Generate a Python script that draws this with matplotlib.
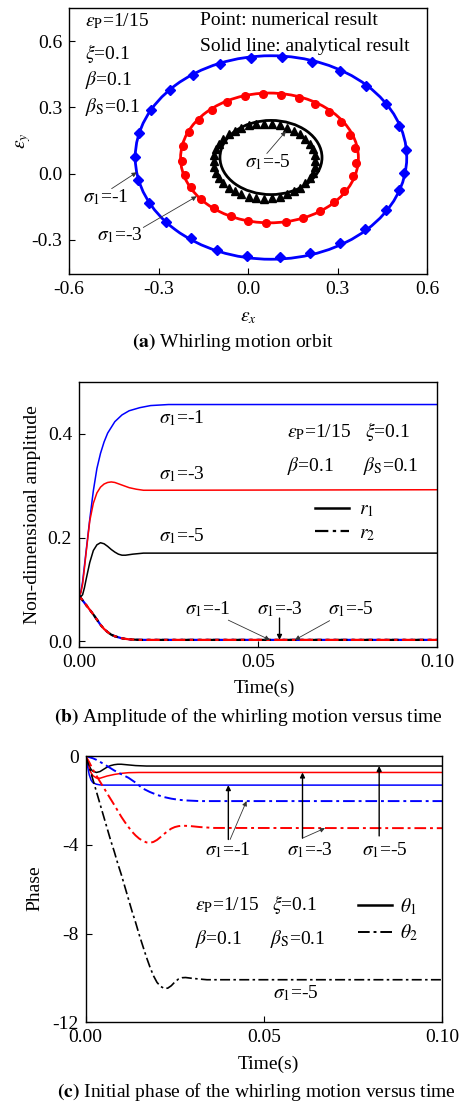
import matplotlib
matplotlib.use("Agg")
import matplotlib.pyplot as plt
import numpy as np
from matplotlib.patches import Ellipse
from matplotlib.lines import Line2D

plt.rcParams['font.family'] = ['Liberation Serif', 'DejaVu Serif']
plt.rcParams['mathtext.fontset'] = 'stix'
plt.rcParams['axes.unicode_minus'] = False

# (a) whirling orbits: sigma1 = -1, -3, -5
orbit_colors = ['blue', 'red', 'black']
orbit_markers = ['D', 'o', '^']
line_cx = [0.077, 0.072, 0.077]
line_cy = [0.073, 0.071, 0.073]
line_rx = [0.455, 0.298, 0.171]
line_ry = [0.461, 0.294, 0.168]
point_cx = [0.075, 0.070, 0.055]
point_cy = [0.075, 0.069, 0.057]
point_r = [0.455, 0.292, 0.170]
angles_s1 = [4, 18, 32, 45, 59, 72, 85, 98, 112, 125, 138, 152, 166, 180, 193,
             207, 220, 234, 247, 260, 274, 287, 301, 314, 328, 341, 351]
angles_s3 = [-4, 9, 21, 34, 46, 58, 70, 82, 94, 106, 119, 131, 143, 156, 169,
             182, 195, 206, 219, 231, 244, 256, 268, 281, 293, 306, 318, 330, 344]
angles_s5 = [0, 9, 18, 27, 36, 45, 54, 63, 72, 81, 90, 99, 108, 117, 126, 135,
             144, 153, 162, 171, 180, 189, 198, 207, 216, 225, 234, 243, 252,
             261, 270, 279, 288, 297, 306, 315, 324, 333, 342, 351]
point_angles = [angles_s1, angles_s3, angles_s5]

# (b) amplitude vs time
t_r1_s1 = [0, 0.0005, 0.001, 0.0015, 0.002, 0.003, 0.004, 0.005, 0.006, 0.007,
           0.008, 0.010, 0.012, 0.014, 0.017, 0.020, 0.025, 0.1]
r1_s1 = [0.088, 0.095, 0.115, 0.145, 0.175, 0.235, 0.29, 0.333, 0.362, 0.384,
         0.401, 0.423, 0.436, 0.444, 0.450, 0.454, 0.456, 0.456]
t_r1_s3 = [0, 0.0005, 0.001, 0.0015, 0.002, 0.003, 0.004, 0.005, 0.006, 0.007,
           0.008, 0.009, 0.010, 0.012, 0.014, 0.016, 0.018, 0.022, 0.1]
r1_s3 = [0.088, 0.093, 0.110, 0.140, 0.172, 0.232, 0.266, 0.286, 0.297, 0.303,
         0.306, 0.307, 0.306, 0.301, 0.296, 0.293, 0.291, 0.291, 0.292]
t_r1_s5 = [0, 0.0005, 0.001, 0.0015, 0.002, 0.003, 0.004, 0.005, 0.006, 0.007,
           0.008, 0.009, 0.010, 0.011, 0.012, 0.013, 0.015, 0.018, 0.1]
r1_s5 = [0.090, 0.086, 0.090, 0.103, 0.120, 0.152, 0.175, 0.186, 0.190, 0.188,
         0.183, 0.177, 0.172, 0.168, 0.166, 0.166, 0.168, 0.170, 0.170]
t_r2 = [0, 0.001, 0.002, 0.003, 0.004, 0.005, 0.006, 0.007, 0.008, 0.009,
        0.010, 0.012, 0.014, 0.017, 0.1]
r2_vals = [0.088, 0.079, 0.070, 0.061, 0.052, 0.042, 0.032, 0.024, 0.018,
           0.013, 0.010, 0.006, 0.004, 0.003, 0.003]

# (c) phase vs time
t_th1_s5 = [0, 0.0005, 0.001, 0.0015, 0.002, 0.003, 0.004, 0.005, 0.006, 0.007,
            0.008, 0.009, 0.010, 0.012, 0.014, 0.017, 0.1]
th1_s5 = [0, -0.25, -0.45, -0.6, -0.68, -0.74, -0.70, -0.60, -0.50, -0.43,
          -0.39, -0.37, -0.37, -0.40, -0.43, -0.45, -0.45]
t_th1_s3 = [0, 0.0005, 0.001, 0.0015, 0.002, 0.003, 0.004, 0.005, 0.006, 0.008,
            0.010, 0.012, 0.015, 0.1]
th1_s3 = [0, -0.3, -0.55, -0.75, -0.88, -0.99, -1.0, -0.95, -0.90, -0.83,
          -0.78, -0.75, -0.74, -0.74]
t_th1_s1 = [0, 0.0005, 0.001, 0.0015, 0.002, 0.003, 0.004, 0.005, 0.006, 0.1]
th1_s1 = [0, -0.45, -0.85, -1.08, -1.2, -1.27, -1.30, -1.31, -1.31, -1.31]

t_th2_s1 = [0, 0.001, 0.002, 0.003, 0.004, 0.006, 0.008, 0.010, 0.012, 0.014,
            0.016, 0.018, 0.020, 0.022, 0.024, 0.026, 0.028, 0.032, 0.1]
th2_s1 = [0, -0.05, -0.10, -0.17, -0.26, -0.45, -0.65, -0.82, -0.98, -1.20,
          -1.46, -1.62, -1.75, -1.85, -1.92, -1.97, -2.00, -2.03, -2.03]
t_th2_s3 = [0, 0.001, 0.002, 0.003, 0.004, 0.005, 0.006, 0.007, 0.008, 0.009,
            0.010, 0.011, 0.012, 0.013, 0.014, 0.015, 0.016, 0.017, 0.018,
            0.019, 0.020, 0.021, 0.022, 0.023, 0.024, 0.025, 0.026, 0.027,
            0.029, 0.032, 0.036, 0.1]
th2_s3 = [0, -0.28, -0.60, -0.88, -1.15, -1.41, -1.68, -1.94, -2.20, -2.47,
          -2.74, -2.98, -3.20, -3.41, -3.58, -3.72, -3.82, -3.89, -3.91,
          -3.87, -3.78, -3.65, -3.51, -3.38, -3.27, -3.20, -3.16, -3.14,
          -3.15, -3.20, -3.24, -3.25]
t_th2_s5 = [0, 0.001, 0.002, 0.003, 0.004, 0.005, 0.006, 0.007, 0.008, 0.009,
            0.010, 0.011, 0.012, 0.013, 0.014, 0.015, 0.016, 0.017, 0.018,
            0.019, 0.020, 0.021, 0.022, 0.023, 0.024, 0.025, 0.026, 0.027,
            0.028, 0.030, 0.034, 0.1]
th2_s5 = [0, -0.50, -1.05, -1.60, -2.15, -2.70, -3.25, -3.80, -4.30, -4.85,
          -5.35, -5.90, -6.45, -7.00, -7.50, -8.05, -8.55, -9.05, -9.50,
          -9.90, -10.20, -10.38, -10.47, -10.46, -10.35, -10.18, -10.05,
          -9.99, -9.98, -10.02, -10.08, -10.08]

fig = plt.figure(figsize=(4.64, 11.05), dpi=100)
ax_a = fig.add_axes([0.1487, 0.752, 0.7716, 0.2407])
ax_b = fig.add_axes([0.1703, 0.4148, 0.7716, 0.2398])
ax_c = fig.add_axes([0.1847, 0.0748, 0.7685, 0.241])

for ax in (ax_a, ax_b, ax_c):
    ax.tick_params(direction='in', length=4, width=0.8, labelsize=14, pad=5,
                   top=False, right=False)
    for sp in ax.spines.values():
        sp.set_linewidth(1.0)

fs = 14
arrow_kw = dict(arrowstyle='-|>', color='#333333', lw=0.6, mutation_scale=7,
                shrinkA=0, shrinkB=0)

# ---- (a)
for i in range(3):
    ax_a.add_patch(Ellipse((line_cx[i], line_cy[i]), 2 * line_rx[i], 2 * line_ry[i],
                           fill=False, color=orbit_colors[i], lw=2))
    ang = np.radians(point_angles[i])
    ax_a.plot(point_cx[i] + point_r[i] * np.cos(ang),
              point_cy[i] + point_r[i] * np.sin(ang),
              ls='none', marker=orbit_markers[i], color=orbit_colors[i], ms=5.5)
ax_a.set_xlim(-0.6, 0.6)
ax_a.set_ylim(-0.455, 0.75)
ax_a.set_xticks([-0.6, -0.3, 0.0, 0.3, 0.6])
ax_a.set_yticks([-0.3, 0.0, 0.3, 0.6])
ax_a.set_xlabel(r'$\varepsilon_x$', fontsize=fs)
ax_a.set_ylabel(r'$\varepsilon_y$', fontsize=fs)
ax_a.xaxis.set_label_coords(0.5, -0.13)
ax_a.yaxis.set_label_coords(-0.10, 0.5)
ax_a.text(-0.545, 0.668, r'$\varepsilon_{\rm P}$=1/15', fontsize=fs)
ax_a.text(-0.545, 0.517, r'$\xi$=0.1', fontsize=fs)
ax_a.text(-0.545, 0.400, r'$\beta$=0.1', fontsize=fs)
ax_a.text(-0.545, 0.280, r'$\beta_{\rm S}$=0.1', fontsize=fs)
ax_a.text(-0.161, 0.673, 'Point: numerical result', fontsize=fs)
ax_a.text(-0.161, 0.556, 'Solid line: analytical result', fontsize=fs)
ax_a.text(-0.010, 0.029, r'$\sigma_1$=-5', fontsize=fs)
ax_a.text(-0.552, -0.130, r'$\sigma_1$=-1', fontsize=fs)
ax_a.text(-0.505, -0.303, r'$\sigma_1$=-3', fontsize=fs)
ax_a.annotate('', xy=(-0.373, 0.006), xytext=(-0.457, -0.068), arrowprops=arrow_kw)
ax_a.annotate('', xy=(-0.172, -0.103), xytext=(-0.351, -0.244), arrowprops=arrow_kw)
ax_a.annotate('', xy=(0.127, 0.192), xytext=(0.063, 0.091), arrowprops=arrow_kw)

# ---- (b)
dd = (0, (6, 2, 1.5, 2))
ax_b.plot(t_r1_s1, r1_s1, color='blue', lw=1.1)
ax_b.plot(t_r1_s3, r1_s3, color='red', lw=1.1)
ax_b.plot(t_r1_s5, r1_s5, color='black', lw=1.1)
ax_b.plot(t_r2, r2_vals, color='blue', lw=1.6, ls=dd)
ax_b.plot(t_r2, r2_vals, color='black', lw=1.6, ls=(3, (6, 2, 1.5, 2)))
ax_b.plot(t_r2, r2_vals, color='red', lw=1.6, ls=(7, (6, 2, 1.5, 2)))
ax_b.set_xlim(0, 0.1)
ax_b.set_ylim(-0.01, 0.5)
ax_b.set_xticks([0.0, 0.05, 0.10])
ax_b.set_xticklabels(['0.00', '0.05', '0.10'])
ax_b.set_yticks([0.0, 0.2, 0.4])
ax_b.set_yticklabels(['0.0', '0.2', '0.4'])
ax_b.set_xlabel('Time(s)', fontsize=fs)
ax_b.set_ylabel('Non-dimensional amplitude', fontsize=fs)
ax_b.xaxis.set_label_coords(0.517, -0.125)
ax_b.yaxis.set_label_coords(-0.105, 0.5)
ax_b.text(0.0222, 0.419, r'$\sigma_1$=-1', fontsize=fs)
ax_b.text(0.0222, 0.313, r'$\sigma_1$=-3', fontsize=fs)
ax_b.text(0.0222, 0.193, r'$\sigma_1$=-5', fontsize=fs)
ax_b.text(0.058, 0.393, r'$\varepsilon_{\rm P}$=1/15', fontsize=fs)
ax_b.text(0.0799, 0.393, r'$\xi$=0.1', fontsize=fs)
ax_b.text(0.058, 0.329, r'$\beta$=0.1', fontsize=fs)
ax_b.text(0.0794, 0.329, r'$\beta_{\rm S}$=0.1', fontsize=fs)
ax_b.text(0.0296, 0.052, r'$\sigma_1$=-1', fontsize=fs)
ax_b.text(0.0496, 0.052, r'$\sigma_1$=-3', fontsize=fs)
ax_b.text(0.0696, 0.052, r'$\sigma_1$=-5', fontsize=fs)
ax_b.annotate('', xy=(0.0533, 0.003), xytext=(0.0417, 0.041), arrowprops=arrow_kw)
ax_b.annotate('', xy=(0.0560, 0.003), xytext=(0.0560, 0.045),
              arrowprops=dict(arrow_kw, color='black', lw=1.0))
ax_b.annotate('', xy=(0.0603, 0.003), xytext=(0.0700, 0.040), arrowprops=arrow_kw)
hb = [Line2D([], [], color='black', lw=1.8),
      Line2D([], [], color='black', lw=1.6, ls=dd)]
ax_b.legend(hb, [r'$r_1$', r'$r_2$'], loc='upper left', bbox_to_anchor=(0.61, 0.615),
            frameon=False, fontsize=fs, handlelength=1.75, handletextpad=0.5,
            labelspacing=0.25)

# ---- (c)
ax_c.plot(t_th1_s5, th1_s5, color='black', lw=1.1)
ax_c.plot(t_th1_s3, th1_s3, color='red', lw=1.1)
ax_c.plot(t_th1_s1, th1_s1, color='blue', lw=1.1)
ax_c.plot(t_th2_s1, th2_s1, color='blue', lw=1.4, ls=dd)
ax_c.plot(t_th2_s3, th2_s3, color='red', lw=1.4, ls=dd)
ax_c.plot(t_th2_s5, th2_s5, color='black', lw=1.2, ls=dd)
ax_c.set_xlim(0, 0.1)
ax_c.set_ylim(-12, 0)
ax_c.set_xticks([0.0, 0.05, 0.10])
ax_c.set_xticklabels(['0.00', '0.05', '0.10'])
ax_c.set_yticks([0, -4, -8, -12])
ax_c.set_xlabel('Time(s)', fontsize=fs)
ax_c.set_ylabel('Phase', fontsize=fs)
ax_c.xaxis.set_label_coords(0.513, -0.125)
ax_c.yaxis.set_label_coords(-0.12, 0.504)
ax_c.text(0.0335, -4.46, r'$\sigma_1$=-1', fontsize=fs)
ax_c.text(0.0564, -4.46, r'$\sigma_1$=-3', fontsize=fs)
ax_c.text(0.0774, -4.46, r'$\sigma_1$=-5', fontsize=fs)
ax_c.text(0.0526, -10.93, r'$\sigma_1$=-5', fontsize=fs)
ax_c.text(0.0307, -6.94, r'$\varepsilon_{\rm P}$=1/15', fontsize=fs)
ax_c.text(0.0522, -6.94, r'$\xi$=0.1', fontsize=fs)
ax_c.text(0.0307, -8.45, r'$\beta$=0.1', fontsize=fs)
ax_c.text(0.0518, -8.45, r'$\beta_{\rm S}$=0.1', fontsize=fs)
vkw = dict(arrow_kw, color='black', lw=1.0)
ax_c.annotate('', xy=(0.0400, -1.31), xytext=(0.0400, -3.76), arrowprops=vkw)
ax_c.annotate('', xy=(0.0451, -2.03), xytext=(0.0405, -3.76), arrowprops=arrow_kw)
ax_c.annotate('', xy=(0.0608, -0.74), xytext=(0.0608, -3.70), arrowprops=vkw)
ax_c.annotate('', xy=(0.0671, -3.25), xytext=(0.0608, -3.70), arrowprops=arrow_kw)
ax_c.annotate('', xy=(0.0823, -0.45), xytext=(0.0823, -3.60), arrowprops=vkw)
hc = [Line2D([], [], color='black', lw=1.8),
      Line2D([], [], color='black', lw=1.4, ls=dd)]
ax_c.legend(hc, [r'$\theta_1$', r'$\theta_2$'], loc='upper left',
            bbox_to_anchor=(0.715, 0.54), frameon=False, fontsize=fs,
            handlelength=1.75, handletextpad=0.4, labelspacing=0.3)

# captions
fig.text(0.502, 0.6905, r'$\mathbf{(a)}$ Whirling motion orbit', fontsize=fs,
         ha='center', va='center')
fig.text(0.535, 0.351, r'$\mathbf{(b)}$ Amplitude of the whirling motion versus time',
         fontsize=fs, ha='center', va='center')
fig.text(0.553, 0.0118, r'$\mathbf{(c)}$ Initial phase of the whirling motion versus time',
         fontsize=fs, ha='center', va='center')

fig.savefig('out.png', dpi=100)
